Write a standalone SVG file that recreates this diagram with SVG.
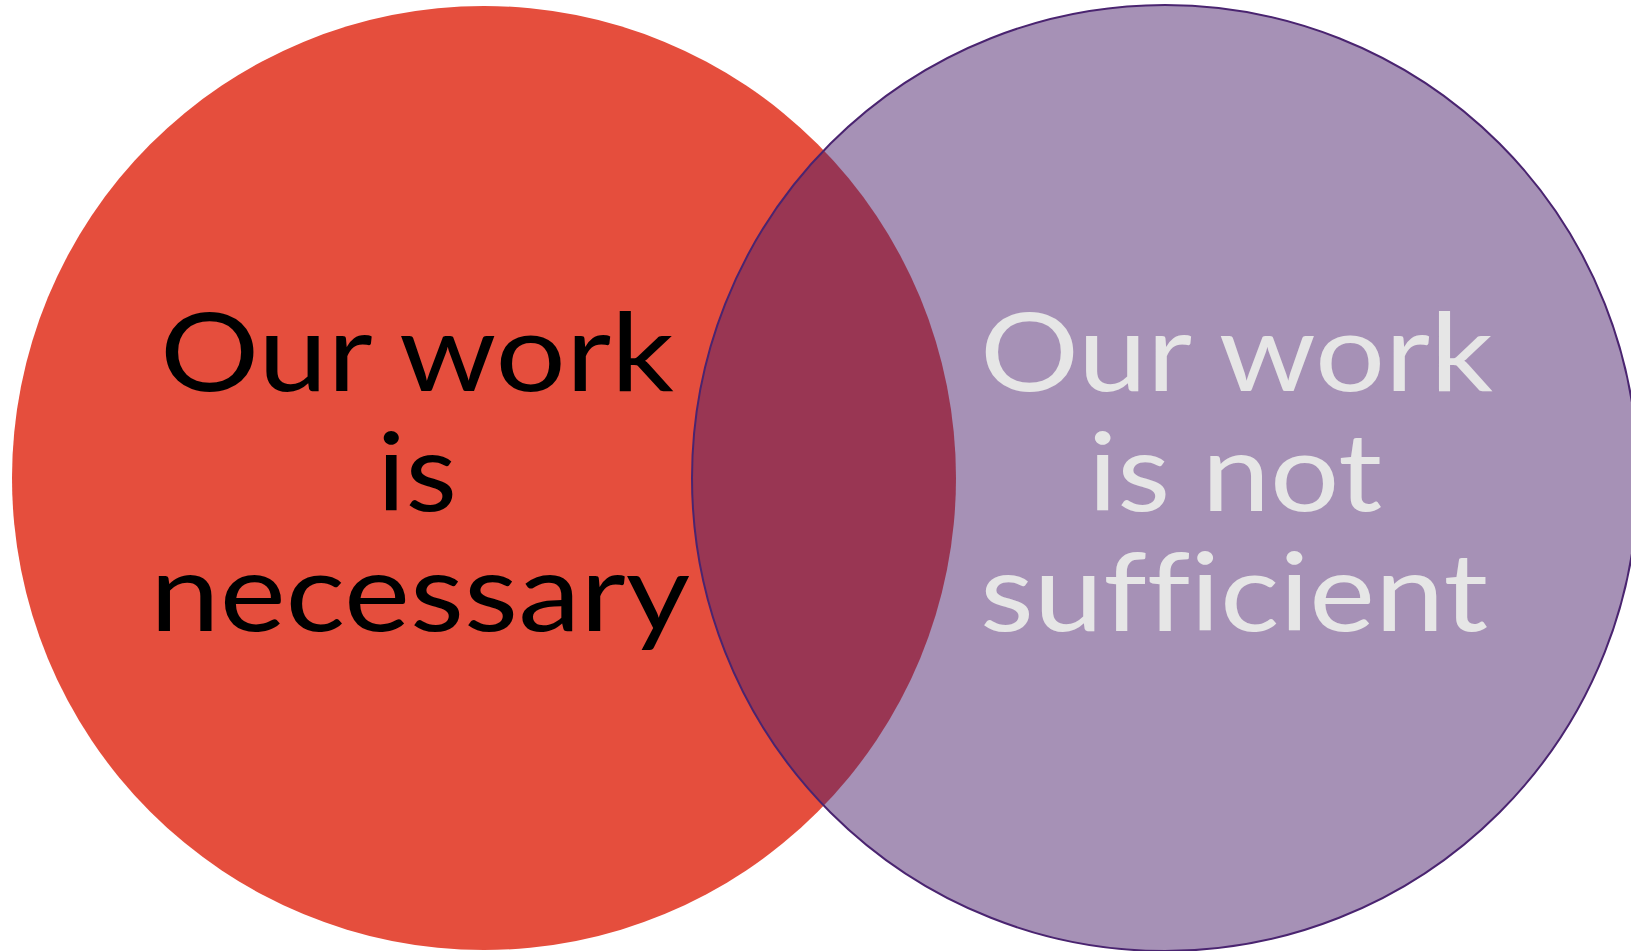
<svg xmlns="http://www.w3.org/2000/svg" width="1631" height="951" viewBox="0 0 1631 951">
<style>
.t{font-family:Lato,"Open Sans","Liberation Sans",sans-serif;font-size:109px;font-weight:400;font-variant-ligatures:none;font-feature-settings:"liga" 0}
.dark{fill:#000000}
.light{fill:#E6E6E6}
</style>
<rect x="0" y="0" width="1631" height="951" fill="#FFFFFF"/>
<g id="necessary">
<circle cx="484" cy="478" r="472" fill="#E54E3D"/>
</g>
<g id="sufficient">
<circle cx="1165" cy="478" r="473" fill="#4A1F6B" fill-opacity="0.49" stroke="#4A2470" stroke-width="2"/>
</g>
<g id="connectors"></g>
<g id="labels-left">
<text class="t dark" x="160" y="391" textLength="514" lengthAdjust="spacingAndGlyphs">Our work</text>
<text class="t dark" x="377" y="511" textLength="80" lengthAdjust="spacingAndGlyphs">is</text>
<text class="t dark" x="150" y="631" textLength="540" lengthAdjust="spacingAndGlyphs">necessary</text>
</g>
<g id="labels-right">
<text class="t light" x="980" y="391" textLength="513" lengthAdjust="spacingAndGlyphs">Our work</text>
<text class="t light" x="1088" y="511" textLength="294" lengthAdjust="spacingAndGlyphs">is not</text>
<text class="t light" x="980" y="631" textLength="508" lengthAdjust="spacingAndGlyphs">sufficient</text>
</g>
</svg>
